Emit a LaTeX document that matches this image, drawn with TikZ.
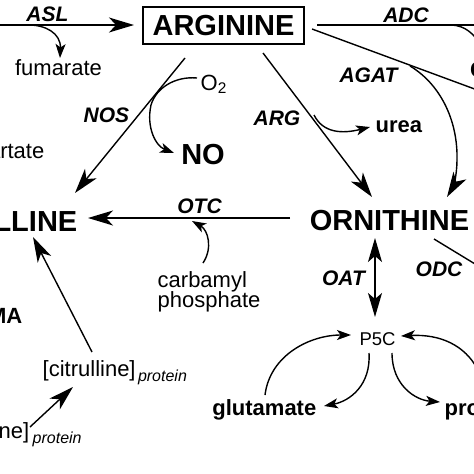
\documentclass[tikz,border=0pt]{standalone}
\usepackage{fontspec}
\setmainfont{Liberation Sans}
\usetikzlibrary{arrows.meta}
\newcommand\setfs[1]{\fontsize{#1}{#1}\selectfont}
\begin{document}
\begin{tikzpicture}[x=1pt,y=-1pt,line width=1.4pt,
  big/.style={font=\bfseries\setfs{29}, inner sep=0pt},
  enz/.style={font=\bfseries\itshape\setfs{21}, inner sep=0pt},
  lab/.style={font=\setfs{22}, inner sep=0pt},
  blab/.style={font=\bfseries\setfs{22}, inner sep=0pt},
  sub/.style={font=\itshape\setfs{16}, inner sep=0pt},
  bigarrow/.style={-{Stealth[length=25pt,width=15pt,inset=7pt]}},
  dblarrow/.style={{Stealth[length=24pt,width=14pt,inset=6pt]}-{Stealth[length=24pt,width=14pt,inset=6pt]}},
  smallarrow/.style={-{Stealth[length=14pt,width=10pt,inset=3.5pt]}}]
\useasboundingbox (0,0) rectangle (474,474);
\clip (0,0) rectangle (474,474);

% nodes
\node[draw, line width=1.3pt, minimum width=161pt, minimum height=37pt, big] (arg) at (223.5,25.5) {ARGININE};
\node[enz, anchor=base] (asl) at (47.5,21) {ASL};
\node[lab, anchor=base] (fum) at (58.5,75) {fumarate};
\node[enz, anchor=base] (adc) at (406,22) {ADC};
\node[enz, anchor=base] (agat) at (368.5,82) {AGAT};
\node[blab, anchor=base west] (co2) at (469.5,77) {CO\textsubscript{2}};
\node[lab, anchor=base west] (o2) at (200,90) {O\textsubscript{2}};
\node[enz, anchor=base] (nos) at (106.5,122) {NOS};
\node[big, anchor=base] (no) at (203,164) {NO};
\node[lab, anchor=base east] (asp) at (45,158) {aspartate};
\node[enz, anchor=base] (argase) at (277,125) {ARG};
\node[blab, anchor=base west] (urea) at (375,132) {urea};
\node[big, anchor=base east] (cit) at (78,231) {CITRULLINE};
\node[enz, anchor=base] (otc) at (199.5,213) {OTC};
\node[lab, anchor=base west] (carb) at (157,287) {carbamyl};
\node[lab, anchor=base west] (phos) at (157,307) {phosphate};
\node[big, anchor=base] (orn) at (389.5,230) {ORNITHINE};
\node[enz, anchor=base] (oat) at (343.5,285) {OAT};
\node[enz, anchor=base] (odc) at (439,276) {ODC};
\node[blab, anchor=base east] (adma) at (23,323) {ADMA};
\node[font=\setfs{18.5}, inner sep=0pt, anchor=base] (p5c) at (377.5,345) {P5C};
\node[blab, anchor=base east] (glu) at (317,415) {glutamate};
\node[blab, anchor=base west] (pro) at (444,415) {proline};
\node[lab, anchor=base west] (citp) at (42,376) {[citrulline]};
\node[sub, anchor=base west, yshift=-5pt, xshift=1pt] (citps) at (citp.base east) {protein};
\node[lab, anchor=base east] (argp) at (30,438) {[arginine]};
\node[sub, anchor=base west, yshift=-5pt, xshift=2pt] (argps) at (argp.base east) {protein};

% coordinates
\coordinate (aslS) at (-5,25);
\coordinate (aslE) at (134,25);
\coordinate (fumS) at (29,25);
\coordinate (fumE) at (60,58);
\coordinate (nosS) at (185,58);
\coordinate (nosE) at (75,193);
\coordinate (o2S) at (197,78);
\coordinate (o2M) at (151,105);
\coordinate (noE) at (174,153);
\coordinate (otcS) at (290,218);
\coordinate (otcE) at (88,218);
\coordinate (cpS) at (203,263);
\coordinate (cpE) at (192,221);
\coordinate (argS) at (263,53);
\coordinate (argE) at (372,197);
\coordinate (ureaS) at (314,115);
\coordinate (ureaE) at (370,127);
\coordinate (adcS) at (317,25);
\coordinate (adcE) at (480,25);
\coordinate (adcB) at (452,25);
\coordinate (adcBE) at (480,44);
\coordinate (agatS) at (312,29);
\coordinate (agatE) at (480,91);
\coordinate (agatB) at (410,66);
\coordinate (agatM) at (457,160);
\coordinate (agatBE) at (447,197);
\coordinate (odcS) at (434,239);
\coordinate (odcE) at (480,267);
\coordinate (oatT) at (375,238);
\coordinate (oatB) at (375,317);
\coordinate (citS) at (92,352);
\coordinate (citE) at (33,237);
\coordinate (apS) at (30,427);
\coordinate (apE) at (73,387);
\coordinate (g1S) at (265,395);
\coordinate (g1E) at (351,335);
\coordinate (g2S) at (369,353);
\coordinate (g2E) at (324,406);
\coordinate (p1S) at (392,353);
\coordinate (p1E) at (440,402);
\coordinate (p2S) at (478,370);
\coordinate (p2E) at (401,336);

% connectors
\draw[bigarrow] (aslS) -- (aslE);
\draw[smallarrow] (fumS) .. controls (45,25) and (61,33) .. (fumE);
\draw[bigarrow] (nosS) -- (nosE);
\draw[smallarrow] (o2S) .. controls (175,76) and (156,88) .. (o2M) .. controls (146,128) and (156,146) .. (noE);
\draw[bigarrow] (otcS) -- (otcE);
\draw[smallarrow] (cpS) .. controls (213,248) and (208,230) .. (cpE);
\draw[bigarrow] (argS) -- (argE);
\draw[smallarrow] (ureaS) .. controls (323,133) and (342,134) .. (ureaE);
\draw (adcS) -- (adcE);
\draw (adcB) .. controls (465,26) and (473,33) .. (adcBE);
\draw (agatS) -- (agatE);
\draw (agatB) .. controls (440,84) and (458,120) .. (agatM);
\draw[bigarrow] (agatM) .. controls (457,175) and (453,187) .. (agatBE);
\draw (odcS) -- (odcE);
\draw[dblarrow] (oatT) -- (oatB);
\draw[bigarrow] (citS) -- (citE);
\draw[bigarrow] (apS) -- (apE);
\draw[smallarrow] (g1S) .. controls (270,355) and (310,335) .. (g1E);
\draw[smallarrow] (g2S) .. controls (371,385) and (350,401) .. (g2E);
\draw[smallarrow] (p1S) .. controls (392,385) and (415,400) .. (p1E);
\draw[smallarrow] (p2S) .. controls (465,345) and (440,334) .. (p2E);
\end{tikzpicture}
\end{document}
